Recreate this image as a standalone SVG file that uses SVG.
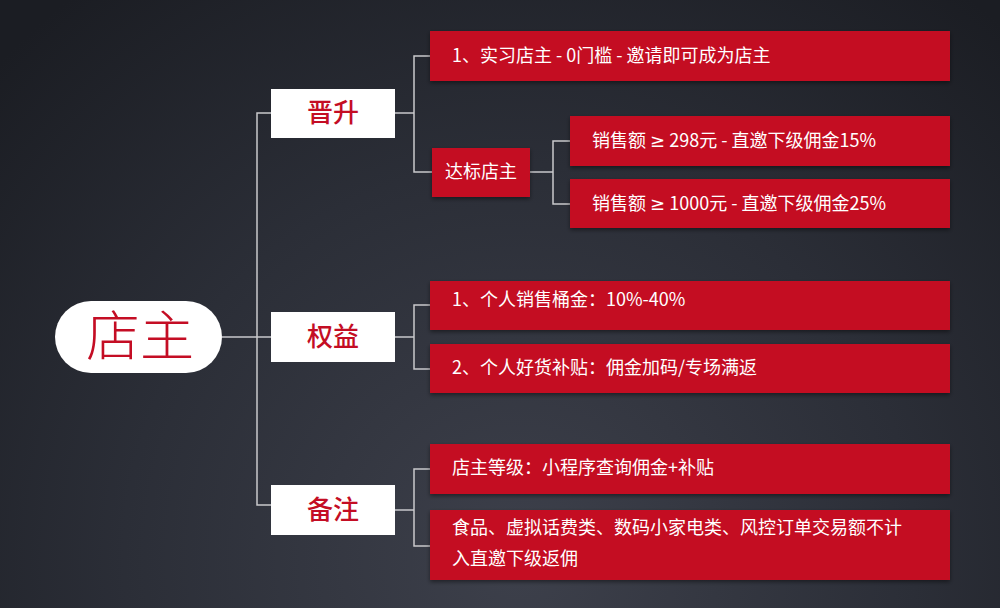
<svg xmlns="http://www.w3.org/2000/svg" width="1000" height="608" viewBox="0 0 1000 608">
  <defs>
    <radialGradient id="bg" cx="520" cy="560" r="720" gradientUnits="userSpaceOnUse">
      <stop offset="0" stop-color="#3d404b"/>
      <stop offset="0.55" stop-color="#2b2e37"/>
      <stop offset="1" stop-color="#1b1d23"/>
    </radialGradient>
    <filter id="sh" x="-5%" y="-20%" width="110%" height="150%">
      <feDropShadow dx="0" dy="2" stdDeviation="2" flood-color="#000" flood-opacity="0.45"/>
    </filter>
    <style>
      .red { fill: #c40d24; filter: url(#sh); }
      .white { fill: #ffffff; }
      .lbl { font-family: "Noto Sans CJK SC", "Noto Sans", sans-serif; font-size: 18px; fill: #ffffff; }
      .ge { font-family: "Noto Sans", "DejaVu Sans", sans-serif; }
      .l1 { font-family: "Noto Sans CJK SC", sans-serif; font-size: 26px; fill: #c40d24; font-weight: 500; text-anchor: middle; }
      .root { font-family: "Noto Sans CJK SC", serif; font-size: 54px; fill: #c40d24; font-weight: 300; text-anchor: middle; }
      .conn { fill: none; stroke: #c9c9cc; stroke-width: 1.5; }
    </style>
  </defs>
  <rect width="1000" height="608" fill="url(#bg)"/>

  <g id="connectors" class="conn">
    <path d="M222 337 H271"/>
    <path d="M271 113 H257 V505 H271"/>
    <path d="M395 113 H414"/>
    <path d="M430 56 H414 V172 H432"/>
    <path d="M530 172 H553"/>
    <path d="M570 141 H553 V204 H570"/>
    <path d="M395 337 H414"/>
    <path d="M430 305 H414 V369 H430"/>
    <path d="M395 510 H414"/>
    <path d="M430 469 H414 V546 H430"/>
  </g>

  <g id="root">
    <rect x="55" y="301" width="167" height="72" rx="36" class="white"/>
    <text x="140" y="356" class="root">店主</text>
  </g>

  <g id="jinsheng">
    <rect x="271" y="89" width="124" height="49" class="white"/>
    <text x="333" y="122" class="l1">晋升</text>
  </g>
  <g id="quanyi">
    <rect x="271" y="312" width="124" height="50" class="white"/>
    <text x="333" y="346" class="l1">权益</text>
  </g>
  <g id="beizhu">
    <rect x="271" y="485" width="124" height="50" class="white"/>
    <text x="333" y="519" class="l1">备注</text>
  </g>

  <g id="shixi">
    <rect x="430" y="31" width="520" height="50" class="red"/>
    <text x="452" y="62" class="lbl">1、实习店主 - 0门槛 - 邀请即可成为店主</text>
  </g>
  <g id="dabiao">
    <rect x="432" y="148" width="98" height="49" class="red"/>
    <text x="481" y="178" class="lbl" text-anchor="middle">达标店主</text>
  </g>
  <g id="d298">
    <rect x="570" y="116" width="380" height="50" class="red"/>
    <text x="592" y="147" class="lbl">销售额 <tspan class="ge">≥</tspan> 298元 - 直邀下级佣金15%</text>
  </g>
  <g id="d1000">
    <rect x="570" y="179" width="380" height="49" class="red"/>
    <text x="592" y="210" class="lbl">销售额 <tspan class="ge">≥</tspan> 1000元 - 直邀下级佣金25%</text>
  </g>

  <g id="tongjin">
    <rect x="430" y="281" width="520" height="49" class="red"/>
    <text x="452" y="306" class="lbl">1、个人销售桶金：10%-40%</text>
  </g>
  <g id="butie">
    <rect x="430" y="344" width="520" height="49" class="red"/>
    <text x="452" y="374" class="lbl">2、个人好货补贴：佣金加码/专场满返</text>
  </g>

  <g id="dengji">
    <rect x="430" y="444" width="520" height="50" class="red"/>
    <text x="452" y="474" class="lbl">店主等级：小程序查询佣金+补贴</text>
  </g>
  <g id="bujiru">
    <rect x="430" y="510" width="520" height="70" class="red"/>
    <text x="452" y="534" class="lbl">食品、虚拟话费类、数码小家电类、风控订单交易额不计</text>
    <text x="452" y="565" class="lbl">入直邀下级返佣</text>
  </g>
</svg>
